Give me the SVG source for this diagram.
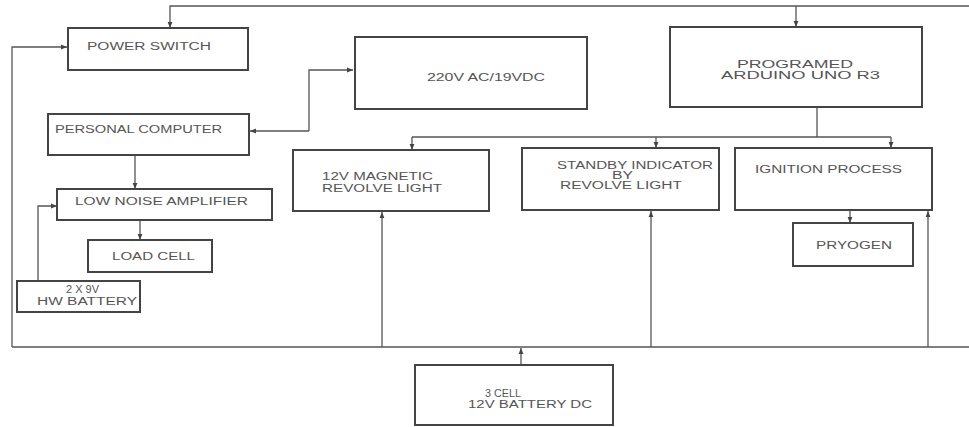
<svg xmlns="http://www.w3.org/2000/svg" width="969" height="427" viewBox="0 0 969 427">
<defs>
<marker id="ah" viewBox="0 0 10 10" refX="10" refY="5" markerWidth="6" markerHeight="6" markerUnits="userSpaceOnUse" orient="auto">
<path d="M0,1 L10,5 L0,9 Z" fill="#444"/>
</marker>
</defs>
<style>
rect.box{fill:#fff;stroke:#444;stroke-width:2}
.c{fill:none;stroke:#555;stroke-width:1.3}
.ca{fill:none;stroke:#555;stroke-width:1.3;marker-end:url(#ah)}
text{font-family:"Liberation Sans",Arial,sans-serif;font-size:10px;fill:#555}
</style>
<rect width="969" height="427" fill="#fff"/>
<g id="connectors">
<polyline class="ca" points="969,6 170,6 170,28"/>
<line class="ca" x1="796" y1="6" x2="796" y2="27"/>
<polyline class="ca" points="12,347 12,47 67,47"/>
<line class="c" x1="12" y1="347" x2="969" y2="347"/>
<line class="ca" x1="382" y1="347" x2="382" y2="212"/>
<line class="ca" x1="651" y1="347" x2="651" y2="211"/>
<line class="ca" x1="928" y1="347" x2="928" y2="211"/>
<line class="ca" x1="521" y1="365" x2="521" y2="348"/>
<polyline class="ca" points="309,131 309,70 353,70"/>
<line class="ca" x1="309" y1="131" x2="250" y2="131"/>
<line class="ca" x1="135" y1="155" x2="135" y2="189"/>
<line class="ca" x1="140" y1="220" x2="140" y2="240"/>
<polyline class="ca" points="38,281 38,206 57,206"/>
<line class="c" x1="817" y1="107" x2="817" y2="137"/>
<line class="c" x1="412" y1="137" x2="891" y2="137"/>
<line class="ca" x1="412" y1="137" x2="412" y2="150"/>
<line class="ca" x1="656" y1="137" x2="656" y2="148"/>
<line class="ca" x1="891" y1="137" x2="891" y2="148"/>
<line class="ca" x1="850" y1="210" x2="850" y2="223"/>
</g>
<g id="power-switch"><rect class="box" x="68" y="28" width="180" height="42"/><text x="87" y="50" textLength="124" lengthAdjust="spacingAndGlyphs">POWER SWITCH</text></g>
<g id="ac-dc"><rect class="box" x="355" y="37" width="232" height="72"/><text x="427" y="81" textLength="118" lengthAdjust="spacingAndGlyphs">220V AC/19VDC</text></g>
<g id="arduino"><rect class="box" x="670" y="27" width="252" height="80"/><text x="737" y="68" textLength="116" lengthAdjust="spacingAndGlyphs">PROGRAMED</text><text x="721" y="79" textLength="159" lengthAdjust="spacingAndGlyphs">ARDUINO UNO R3</text></g>
<g id="personal-computer"><rect class="box" x="48" y="114" width="201" height="41"/><text x="55" y="133" textLength="167" lengthAdjust="spacingAndGlyphs">PERSONAL COMPUTER</text></g>
<g id="lna"><rect class="box" x="57" y="189" width="215" height="31"/><text x="75" y="205" textLength="173" lengthAdjust="spacingAndGlyphs">LOW NOISE AMPLIFIER</text></g>
<g id="load-cell"><rect class="box" x="88" y="240" width="124" height="32"/><text x="112" y="260" textLength="83" lengthAdjust="spacingAndGlyphs">LOAD CELL</text></g>
<g id="hw-battery"><rect class="box" x="17" y="281" width="123" height="31"/><text x="66" y="293" textLength="33" lengthAdjust="spacingAndGlyphs">2 X 9V</text><text x="37" y="305" textLength="100" lengthAdjust="spacingAndGlyphs">HW BATTERY</text></g>
<g id="magnetic-light"><rect class="box" x="293" y="150" width="196" height="61"/><text x="322" y="180" textLength="111" lengthAdjust="spacingAndGlyphs">12V MAGNETIC</text><text x="322" y="192" textLength="120" lengthAdjust="spacingAndGlyphs">REVOLVE LIGHT</text></g>
<g id="standby"><rect class="box" x="522" y="148" width="197" height="62"/><text x="557" y="169" textLength="156" lengthAdjust="spacingAndGlyphs">STANDBY INDICATOR</text><text x="612" y="179" textLength="21" lengthAdjust="spacingAndGlyphs">BY</text><text x="560" y="189" textLength="122" lengthAdjust="spacingAndGlyphs">REVOLVE LIGHT</text></g>
<g id="ignition"><rect class="box" x="735" y="148" width="197" height="62"/><text x="755" y="173" textLength="147" lengthAdjust="spacingAndGlyphs">IGNITION PROCESS</text></g>
<g id="pryogen"><rect class="box" x="793" y="223" width="120" height="43"/><text x="816" y="249" textLength="76" lengthAdjust="spacingAndGlyphs">PRYOGEN</text></g>
<g id="battery-12v"><rect class="box" x="415" y="365" width="198" height="60"/><text x="485" y="397" textLength="36" lengthAdjust="spacingAndGlyphs">3 CELL</text><text x="468" y="408" textLength="124" lengthAdjust="spacingAndGlyphs">12V BATTERY DC</text></g>
</svg>
